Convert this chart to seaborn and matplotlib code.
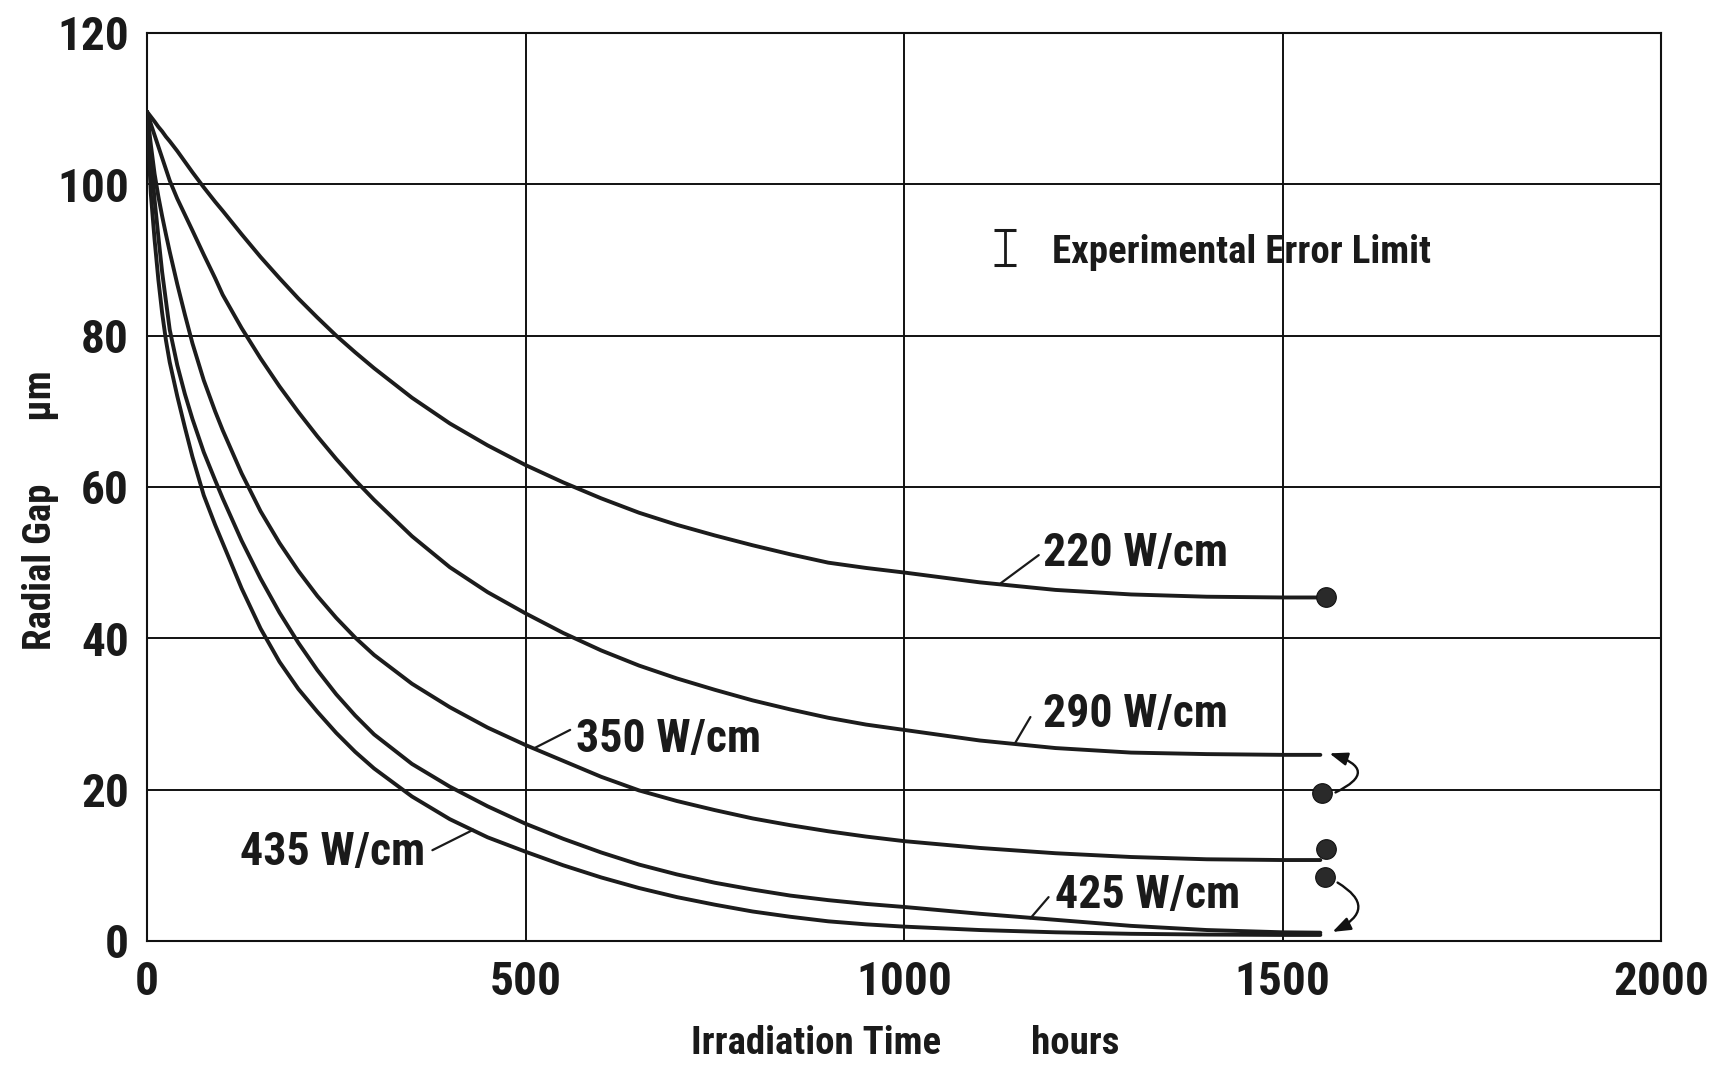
import numpy as np
import pandas as pd
import matplotlib
matplotlib.use("Agg")
import matplotlib.pyplot as plt
import seaborn as sns
from matplotlib import font_manager as fm

# ---------------- data ----------------
hours = [0, 5, 10, 15, 20, 25, 30, 40, 50, 60, 75, 90, 100, 125, 150, 175, 200, 225,
         250, 275, 300, 350, 400, 450, 500, 550, 600, 650, 700, 750, 800, 850, 900,
         950, 1000, 1100, 1200, 1300, 1400, 1500, 1550]

gap_220 = [109.6, 108.95, 108.3, 107.6, 107.0, 106.3, 105.7, 104.4, 103.0, 101.6, 99.6,
           97.7, 96.5, 93.4, 90.4, 87.6, 84.9, 82.4, 80.0, 77.8, 75.7, 71.8, 68.4, 65.5,
           62.9, 60.6, 58.5, 56.6, 55.0, 53.6, 52.3, 51.1, 50.0, 49.3, 48.7, 47.4, 46.4,
           45.8, 45.5, 45.4, 45.4]
gap_290 = [109.6, 108.0, 106.5, 105.0, 103.5, 102.0, 100.5, 98.1, 96.0, 93.9, 90.7,
           87.6, 85.4, 81.0, 77.0, 73.3, 69.9, 66.7, 63.7, 60.9, 58.3, 53.5, 49.4, 46.1,
           43.3, 40.7, 38.4, 36.4, 34.7, 33.2, 31.8, 30.6, 29.5, 28.6, 27.9, 26.5, 25.5,
           24.9, 24.7, 24.6, 24.6]
gap_350 = [109.6, 105.3, 101.4, 98.4, 95.8, 93.4, 91.1, 86.8, 82.8, 79.0, 74.1,
           70.0, 67.5, 61.8, 56.8, 52.6, 48.9, 45.6, 42.7, 40.1, 37.8, 34.0, 30.9, 28.2,
           25.9, 23.8, 21.7, 19.9, 18.5, 17.3, 16.2, 15.3, 14.5, 13.8, 13.2, 12.3, 11.6,
           11.1, 10.8, 10.7, 10.7]
gap_425 = [109.6, 103.6, 98.0, 93.1, 88.4, 84.6, 80.8, 76.1, 72.3, 69.0, 64.6,
           60.9, 58.5, 52.9, 47.9, 43.4, 39.4, 35.8, 32.6, 29.8, 27.3, 23.4, 20.4, 17.8,
           15.5, 13.5, 11.7, 10.1, 8.8, 7.7, 6.8, 6.0, 5.4, 4.9, 4.5, 3.6, 2.8,
           2.0, 1.45, 1.15, 1.1]
gap_435 = [109.6, 98.8, 92.7, 87.4, 83.0, 79.4, 76.5, 72.0, 67.9, 64.0, 58.9,
           55.0, 52.6, 46.6, 41.3, 36.9, 33.3, 30.3, 27.5, 25.0, 22.8, 19.1, 16.1, 13.7,
           11.8, 10.0, 8.4, 7.0, 5.8, 4.8, 3.9, 3.2, 2.6, 2.2, 1.9, 1.45, 1.15,
           0.95, 0.85, 0.8, 0.8]

series_names = ["220 W/cm", "290 W/cm", "350 W/cm", "425 W/cm", "435 W/cm"]
series_values = [gap_220, gap_290, gap_350, gap_425, gap_435]

# labels: left x, baseline y, leader line start / end
label_x = [1184, 1184, 567, 1200, 123]
label_y = [49.5, 28.3, 25.0, 4.3, 10.0]
leader_x0 = [1178, 1167, 559, 1191, 377]
leader_y0 = [51.0, 29.6, 27.9, 5.8, 12.0]
leader_x1 = [1128, 1147, 512, 1167, 431]
leader_y1 = [47.3, 26.2, 25.5, 3.0, 14.7]

# measured end points (dots)
end_hours = [1558, 1552, 1557, 1556]
end_gaps = [45.4, 19.5, 12.1, 8.4]

# curved arrows from measured dot to calculated curve end
arrow_from = [(1565, 19.4), (1568, 8.0)]
arrow_to = [(1562, 24.8), (1566, 1.2)]
arrow_rad = [1.3, -0.95]

# experimental error limit symbol
err_x, err_y, err_half = 1133, 91.65, 2.35
err_text_x, err_text_y = 1196, 89.6

x_ticks = [0, 500, 1000, 1500, 2000]
y_ticks = [0, 20, 40, 60, 80, 100, 120]
x_label = "Irradiation Time          hours"
y_label = "Radial Gap       µm"

# ---------------- font selection ----------------
def pick_font():
    names = {f.name for f in fm.fontManager.ttflist}
    for p in ["Roboto Condensed", "Liberation Sans Narrow", "DejaVu Sans Condensed",
              "Noto Sans Condensed", "Open Sans Condensed", "Arial Narrow"]:
        if p in names:
            return p, "normal"
    for f in fm.fontManager.ttflist:
        st = f.stretch
        if (isinstance(st, str) and "condensed" in st) or (isinstance(st, int) and st < 500):
            return f.name, st
    return "DejaVu Sans", "normal"

fam, stretch = pick_font()

sns.set_theme(style="white")
plt.rcParams["font.family"] = [fam, "DejaVu Sans"]
plt.rcParams["font.stretch"] = stretch
plt.rcParams["font.weight"] = "bold"

# ---------------- figure ----------------
fig = plt.figure(figsize=(17.28, 10.66), dpi=100)
fig.patch.set_facecolor("white")
ax = fig.add_axes([147 / 1728, 1 - 941 / 1066, 1514 / 1728, 908 / 1066])
ax.set_facecolor("white")

rows = []
for name, vals in zip(series_names, series_values):
    for h, v in zip(hours, vals):
        rows.append({"hours": h, "gap": v, "power": name})
df = pd.DataFrame(rows)

sns.lineplot(data=df, x="hours", y="gap", hue="power", estimator=None,
             palette=["#1c1c1c"] * len(series_names), linewidth=2.8,
             legend=False, ax=ax, zorder=3)
for ln in ax.lines:
    ln.set_solid_joinstyle("round")
    ln.set_solid_capstyle("round")

sns.scatterplot(x=end_hours, y=end_gaps, s=200, color="#2a2a2a",
                edgecolor="#111111", linewidth=0.8, ax=ax, zorder=4)

for (x0, y0), (x1, y1), r in zip(arrow_from, arrow_to, arrow_rad):
    ax.annotate("", xy=(x1, y1), xytext=(x0, y0),
                arrowprops=dict(arrowstyle="-|>,head_length=0.6,head_width=0.22",
                                connectionstyle=f"arc3,rad={r}",
                                color="#111111", lw=1.7, mutation_scale=18,
                                shrinkA=3, shrinkB=0),
                zorder=4)

for name, lx, ly, a0, b0, a1, b1 in zip(series_names, label_x, label_y,
                                         leader_x0, leader_y0, leader_x1, leader_y1):
    ax.text(lx, ly, name, fontsize=33, fontweight="bold", color="#1a1a1a",
            ha="left", va="baseline", zorder=5)
    ax.plot([a0, a1], [b0, b1], color="#1a1a1a", lw=1.6, zorder=5)

ax.errorbar([err_x], [err_y], yerr=[err_half], fmt="none", ecolor="#1a1a1a",
            elinewidth=2.0, capsize=8, capthick=2.2, zorder=5)
ax.text(err_text_x, err_text_y, "Experimental Error Limit", fontsize=28,
        fontweight="bold", color="#1a1a1a", ha="left", va="baseline", zorder=5)

# axes styling
ax.set_xlim(0, 2000)
ax.set_ylim(0, 120)
ax.set_xticks(x_ticks)
ax.set_yticks(y_ticks)
ax.set_xticklabels([str(t) for t in x_ticks])
ax.set_yticklabels([str(t) for t in y_ticks])
ax.grid(True, color="#111111", linewidth=1.4)
ax.set_axisbelow(True)
for sp in ax.spines.values():
    sp.set_visible(True)
    sp.set_color("#111111")
    sp.set_linewidth(1.5)
ax.tick_params(axis="both", direction="out", length=9, width=1.4, color="#111111",
               labelsize=34, labelcolor="#1a1a1a")
ax.tick_params(axis="x", pad=5)
ax.tick_params(axis="y", pad=4)
for lab in ax.get_xticklabels() + ax.get_yticklabels():
    lab.set_fontweight("bold")

ax.set_xlabel(x_label, fontsize=28, fontweight="bold", color="#1a1a1a")
ax.xaxis.set_label_coords(0.501, -0.092)
ax.set_ylabel(y_label, fontsize=28, fontweight="bold", color="#1a1a1a")
ax.yaxis.set_label_coords(-0.058, 0.475)

fig.savefig("out.png", dpi=100, facecolor="white")
